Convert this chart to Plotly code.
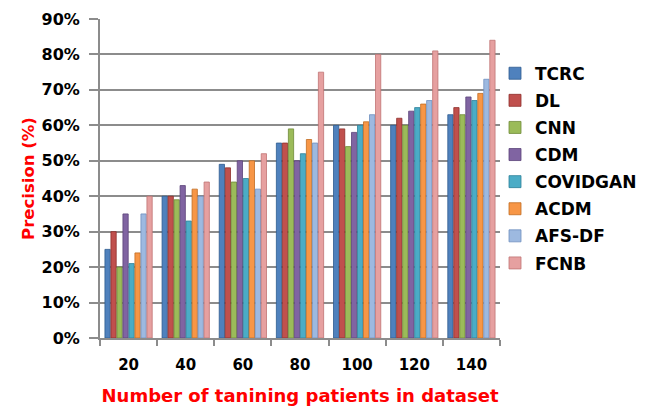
import plotly.graph_objects as go

# Training-set sizes (x categories)
categories = ["20", "40", "60", "80", "100", "120", "140"]

# Precision per method, in percent
tcrc     = [25, 40, 49, 55, 60, 60, 63]
dl       = [30, 40, 48, 55, 59, 62, 65]
cnn      = [20, 39, 44, 59, 54, 60, 63]
cdm      = [35, 43, 50, 50, 58, 64, 68]
covidgan = [21, 33, 45, 52, 60, 65, 67]
acdm     = [24, 42, 50, 56, 61, 66, 69]
afs_df   = [35, 40, 42, 55, 63, 67, 73]
fcnb     = [40, 44, 52, 75, 80, 81, 84]

series_names = ["TCRC", "DL", "CNN", "CDM", "COVIDGAN", "ACDM", "AFS-DF", "FCNB"]
series_values = [tcrc, dl, cnn, cdm, covidgan, acdm, afs_df, fcnb]
colors = ["#4F81BD", "#C0504D", "#9BBB59", "#8064A2",
          "#4BACC6", "#F79646", "#9DB9E0", "#E6A0A0"]
edges = ["#2E5C8F", "#8E2E2B", "#6F8A37", "#5A4379",
         "#2C8099", "#C06C22", "#6F8FBF", "#C07474"]

y_ticks = [i / 100 for i in range(0, 100, 10)]
y_tick_text = [f"{i}%" for i in range(0, 100, 10)]

font_family = "DejaVu Sans, sans-serif"

fig = go.Figure()
for i, (name, vals) in enumerate(zip(series_names, series_values)):
    fig.add_trace(go.Bar(
        name=name,
        x=categories,
        y=[v / 100 for v in vals],
        marker=dict(color=colors[i], line=dict(color=edges[i], width=0.8)),
        legendgroup=name,
    ))

fig.update_layout(
    width=646,
    height=406,
    margin=dict(l=100, r=146, t=19, b=68, autoexpand=False),
    paper_bgcolor="white",
    plot_bgcolor="white",
    barmode="group",
    bargap=0.16,
    bargroupgap=0.12,
    font=dict(family=font_family, color="black"),
    legend=dict(
        x=0.9875, xanchor="left",
        y=0.885, yanchor="top",
        font=dict(size=17, family=font_family, color="black", weight="bold"),
        tracegroupgap=2,
        itemwidth=30,
        bgcolor="rgba(0,0,0,0)",
    ),
    xaxis=dict(
        type="category",
        showline=True, linecolor="#8c8c8c", linewidth=2,
        ticks="outside", tickson="boundaries", ticklen=6,
        tickcolor="#8c8c8c", tickwidth=2,
        ticklabelstandoff=12,
        tickfont=dict(size=15, family=font_family, color="black", weight="bold"),
        showgrid=False,
        title=dict(
            text="Number of tanining patients in dataset",
            font=dict(size=18, family=font_family, color="#FF0000", weight="bold"),
            standoff=19,
        ),
    ),
    yaxis=dict(
        range=[0, 0.9],
        tickvals=y_ticks, ticktext=y_tick_text,
        showline=True, linecolor="#8c8c8c", linewidth=2,
        ticks="outside", ticklen=9, tickcolor="#8c8c8c", tickwidth=2,
        ticklabelstandoff=6,
        showgrid=True, gridcolor="#8c8c8c", gridwidth=2,
        zeroline=False,
        tickfont=dict(size=16, family=font_family, color="black", weight="bold"),
        title=dict(
            text="Precision (%)",
            font=dict(size=16.5, family=font_family, color="#FF0000", weight="bold"),
            standoff=3,
        ),
    ),
)

fig.write_html("out.html")
